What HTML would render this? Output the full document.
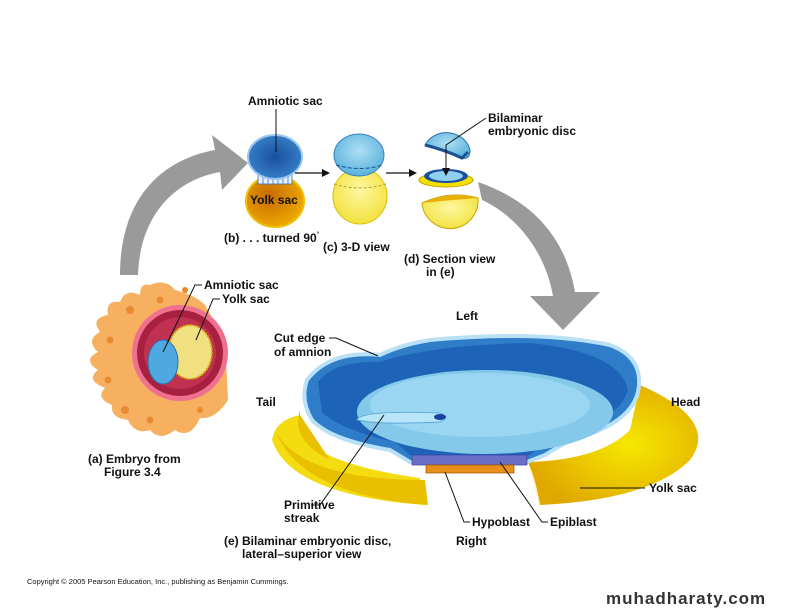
<!DOCTYPE html>
<html><head><meta charset="utf-8"><style>
html,body{margin:0;padding:0;background:#fff}
svg{display:block}
text{font-family:"Liberation Sans",Arial,sans-serif;font-weight:bold;font-size:12px;fill:#111}
</style></head><body>
<svg width="792" height="612" viewBox="0 0 792 612" xmlns="http://www.w3.org/2000/svg">
<defs>
<radialGradient id="yolk" cx="0.6" cy="0.5" r="0.6"><stop offset="0" stop-color="#f6e800"/><stop offset="1" stop-color="#e0a800"/></radialGradient>
<radialGradient id="orng" cx="0.4" cy="0.4" r="0.7"><stop offset="0" stop-color="#c86a00"/><stop offset="1" stop-color="#f0b000"/></radialGradient>
<radialGradient id="lb" cx="0.5" cy="0.4" r="0.6"><stop offset="0" stop-color="#aee0f4"/><stop offset="1" stop-color="#5ab2dc"/></radialGradient>
<radialGradient id="db" cx="0.5" cy="0.5" r="0.6"><stop offset="0" stop-color="#1a4fa0"/><stop offset="1" stop-color="#3a86cc"/></radialGradient>
<radialGradient id="ly" cx="0.5" cy="0.4" r="0.7"><stop offset="0" stop-color="#fff7a0"/><stop offset="1" stop-color="#f0de30"/></radialGradient>
</defs>

<!-- gray arrows -->
<path d="M120 275 C120 200 160 160 215 150 L212 135 L248 163 L222 190 L220 172 C175 180 140 215 138 275 Z" fill="#9a9a9a"/>
<path d="M478 182 C530 200 565 235 575 292 L600 292 L563 330 L530 296 L553 296 C545 250 515 215 482 200 Z" fill="#9a9a9a"/>

<!-- (b) -->
<ellipse cx="275" cy="201" rx="29" ry="26" fill="url(#orng)" stroke="#f0c000" stroke-width="2"/>
<rect x="258" y="172" width="34" height="12" fill="#e8f0ff" stroke="#3a70c0" stroke-width="0.8"/>
<g stroke="#3a70c0" stroke-width="0.8"><line x1="263" y1="172" x2="263" y2="184"/><line x1="268" y1="172" x2="268" y2="184"/><line x1="273" y1="172" x2="273" y2="184"/><line x1="278" y1="172" x2="278" y2="184"/><line x1="283" y1="172" x2="283" y2="184"/><line x1="288" y1="172" x2="288" y2="184"/></g>
<ellipse cx="275" cy="157" rx="27" ry="22" fill="url(#db)" stroke="#9cc8f0" stroke-width="2"/>
<text x="248" y="105">Amniotic sac</text>
<line x1="276" y1="109" x2="276" y2="152" stroke="#111" stroke-width="1"/>
<text x="250" y="204">Yolk sac</text>
<text x="224" y="242">(b) . . . turned 90<tspan font-size="6" dy="-6">°</tspan></text>
<line x1="295" y1="173" x2="324" y2="173" stroke="#111" stroke-width="1.2"/><path d="M330 173 L322 169 L322 177Z" fill="#111"/>

<!-- (c) -->
<ellipse cx="360" cy="196" rx="27" ry="28" fill="url(#ly)" stroke="#d8c000" stroke-width="1"/>
<path d="M334 184 Q360 192 386 184" fill="none" stroke="#b0a040" stroke-dasharray="3 2"/>
<ellipse cx="359" cy="155" rx="25" ry="21" fill="url(#lb)" stroke="#3a80c0" stroke-width="1"/>
<path d="M336 165 Q359 172 383 165" fill="none" stroke="#1a4f90" stroke-dasharray="4 2"/>
<text x="323" y="251">(c) 3-D view</text>
<line x1="386" y1="173" x2="410" y2="173" stroke="#111" stroke-width="1.2"/><path d="M417 173 L409 169 L409 177Z" fill="#111"/>

<!-- (d) -->
<path d="M425 145 A24 22 0 0 1 470 150 Q470 160 462 158 Q445 150 425 145Z" fill="url(#lb)" stroke="#2a70b0"/>
<path d="M425 145 Q445 150 462 158 L468 152" fill="none" stroke="#1a4f90" stroke-width="3"/>
<ellipse cx="446" cy="180" rx="27" ry="7" fill="#f4e000" stroke="#c8a000"/>
<ellipse cx="446" cy="176" rx="22" ry="7" fill="#1a4fa0"/>
<ellipse cx="446" cy="176" rx="17" ry="5" fill="#8fd0ee"/>
<path d="M422 203 Q450 190 478 198 A28 28 0 0 1 422 203Z" fill="url(#ly)" stroke="#c8a000"/>
<path d="M422 203 Q450 190 478 198 Q450 200 422 203Z" fill="#e8b000"/>
<text x="488" y="122">Bilaminar</text>
<text x="488" y="135">embryonic disc</text>
<polyline points="486,118 446,145 446,170" fill="none" stroke="#111" stroke-width="1"/>
<path d="M446 176 L442 168 L450 168Z" fill="#111"/>
<text x="404" y="263">(d) Section view</text>
<text x="426" y="276">in (e)</text>

<!-- (a) embryo -->
<path d="M150 285 Q165 278 175 290 Q195 295 205 305 L225 340 L228 400 Q215 420 200 418 Q190 440 175 430 Q160 442 150 430 Q135 435 128 420 Q110 418 112 405 Q95 398 105 388 Q85 380 98 370 Q82 360 98 352 Q85 340 100 332 Q90 318 108 315 Q105 300 120 302 Q125 288 140 295 Q140 282 150 285Z" fill="#f6b060"/>
<g fill="#ea8a30"><circle cx="130" cy="310" r="4"/><circle cx="110" cy="340" r="3.5"/><circle cx="108" cy="380" r="3.5"/><circle cx="125" cy="410" r="4"/><circle cx="160" cy="300" r="3.5"/><circle cx="150" cy="420" r="3.5"/><circle cx="185" cy="290" r="3"/><circle cx="200" cy="410" r="3"/></g>
<circle cx="180" cy="353" r="48" fill="#f07090"/>
<circle cx="180" cy="353" r="43" fill="#a82040"/>
<circle cx="180" cy="353" r="36" fill="#c03050"/>
<ellipse cx="190" cy="352" rx="22" ry="27" fill="#f0e080" stroke="#d8a000" stroke-dasharray="2 1.5" stroke-width="2"/>
<ellipse cx="163" cy="362" rx="15" ry="22" fill="#50a8e0" stroke="#2a70b0" stroke-width="1"/>
<text x="204" y="289">Amniotic sac</text>
<text x="222" y="303">Yolk sac</text>
<polyline points="202,285 195,285 163,352" fill="none" stroke="#111"/>
<polyline points="220,299 213,299 196,340" fill="none" stroke="#111"/>
<text x="88" y="463">(a) Embryo from</text>
<text x="104" y="476">Figure 3.4</text>

<!-- (e) -->
<path d="M300 415 Q290 460 420 478 L425 505 Q290 495 272 440 Q275 420 300 415Z" fill="#f4dc10"/>
<path d="M275 430 Q300 480 425 480 L428 505 Q300 495 275 430Z" fill="#e8c000"/>
<path d="M640 385 Q720 420 690 460 Q650 500 540 505 L528 462 Q600 460 630 430Z" fill="url(#yolk)"/>
<path d="M528 462 L540 505 Q536 480 528 462Z" fill="#fff8d0"/>
<path d="M300 410 Q290 440 330 460 L300 415Z" fill="#e8c000"/>
<!-- dish -->
<path d="M307 380 Q330 350 380 355 Q400 345 430 340 Q540 330 610 345 Q645 358 638 392 Q630 425 570 440 L545 455 L527 462 L410 462 L390 450 Q330 440 312 420 Q300 400 307 380Z" fill="#2f7cc8" stroke="#b8e0f6" stroke-width="4"/>
<path d="M318 382 Q335 360 380 362 Q430 345 530 343 Q620 352 628 390 Q620 420 560 432 L540 447 L530 455 L410 455 L395 442 Q340 430 322 412Z" fill="#1d64b8"/>
<ellipse cx="485" cy="412" rx="128" ry="42" fill="#84c9ea"/>
<ellipse cx="480" cy="405" rx="110" ry="32" fill="#9ad6f2"/>
<rect x="412" y="455" width="115" height="10" fill="#6a70c8" stroke="#3a40a0" stroke-width="0.7"/>
<rect x="426" y="465" width="88" height="8" fill="#e8901a" stroke="#a05000" stroke-width="0.7"/>
<path d="M357 420 Q360 410 440 413 Q450 417 440 422 Q380 425 357 420Z" fill="#b8e6f8" stroke="#5aa8d8"/>
<ellipse cx="440" cy="417" rx="6" ry="3" fill="#1a40a0"/>
<text x="456" y="320">Left</text>
<text x="274" y="342">Cut edge</text>
<text x="274" y="356">of amnion</text>
<polyline points="329,338 336,338 378,356" fill="none" stroke="#111"/>
<text x="256" y="406">Tail</text>
<text x="671" y="406">Head</text>
<text x="649" y="492">Yolk sac</text>
<line x1="580" y1="488" x2="645" y2="488" stroke="#111"/>
<text x="284" y="509">Primitive</text>
<text x="284" y="522">streak</text>
<polyline points="311,505 320,505 384,415" fill="none" stroke="#111"/>
<text x="472" y="526">Hypoblast</text>
<polyline points="470,522 464,522 445,472" fill="none" stroke="#111"/>
<text x="550" y="526">Epiblast</text>
<polyline points="548,522 542,522 500,462" fill="none" stroke="#111"/>
<text x="456" y="545">Right</text>
<text x="224" y="545">(e) Bilaminar embryonic disc,</text>
<text x="242" y="558">lateral–superior view</text>
<text x="27" y="584" style="font-weight:normal;font-size:7.5px">Copyright © 2005 Pearson Education, Inc., publishing as Benjamin Cummings.</text>
<text x="606" y="604" style="font-size:17px;fill:#333;letter-spacing:1px">muhadharaty.com</text>
</svg>
</body></html>
